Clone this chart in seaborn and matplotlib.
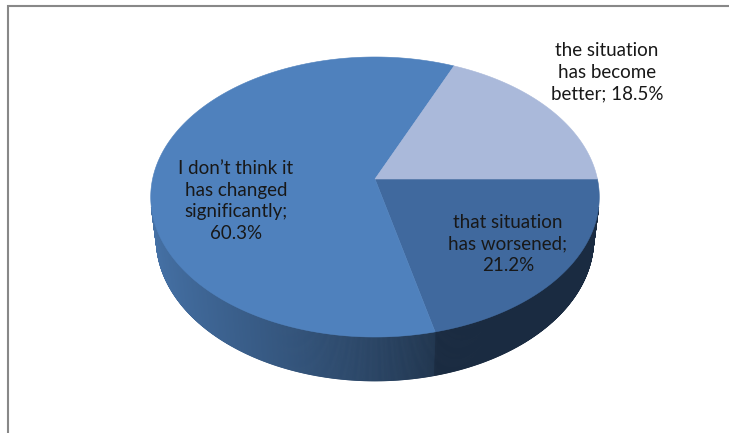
import numpy as np
import matplotlib
matplotlib.use("Agg")
import matplotlib.pyplot as plt
import seaborn as sns
from matplotlib.collections import PolyCollection
from matplotlib.patches import Polygon
from matplotlib.colors import to_rgb

sns.set_theme(style="white")
plt.rcParams["font.family"] = ["Lato", "DejaVu Sans"]

# Survey answers, in the order they are laid out clockwise from 3 o'clock
categories = [
    "that situation has worsened",
    "I don\u2019t think it has changed significantly",
    "the situation has become better",
]
values = [21.2, 60.3, 18.5]
label_names = [
    "that situation\nhas worsened;",
    "I don\u2019t think it\nhas changed\nsignificantly;",
    "the situation\nhas become\nbetter;",
]
label_seps = ["\n", "\n", " "]
top_colors = ["#40699E", "#4F81BD", "#AAB9DA"]

# Label anchors (pixels) and pie geometry
label_pos = [(508, 244), (236, 201), (607, 72)]
CX, CY = 375.0, 179.0
SCALE = 1359.0
DIST = 6.11
TILT = np.deg2rad(38.25)
SIN_T, COS_T = np.sin(TILT), np.cos(TILT)
HEIGHT = 0.248
START_ANGLE = 90.0


def project(px, py, pz):
    """Perspective projection of pie-space points to pixel coordinates."""
    depth = DIST + COS_T * py - SIN_T * pz
    sx = CX + SCALE * px / depth
    sy = CY - SCALE * (SIN_T * py + COS_T * pz) / depth
    return sx, sy


def shade(phi):
    """Side-wall brightness factor: lit from the left, dark toward the front-right."""
    t = np.clip((0.25 - np.sin(phi)) / 1.25, 0.0, 1.0)
    return 0.41 + 0.47 * t ** 0.85


fig = plt.figure(figsize=(7.29, 4.33), dpi=100)
ax = fig.add_axes([0, 0, 1, 1])
ax.set_xlim(0, 729)
ax.set_ylim(433, 0)
ax.axis("off")

total = float(sum(values))
spans = [v / total * 360.0 for v in values]
starts = START_ANGLE + np.concatenate([[0.0], np.cumsum(spans)[:-1]])

# Outer side walls (only the parts facing the viewer)
cull = -1.0 / (DIST * COS_T)
side_polys, side_cols = [], []
for a0, span, col in zip(starts, spans, top_colors):
    phis = np.deg2rad(np.linspace(a0, a0 + span, max(int(span * 4), 8)))
    base = np.array(to_rgb(col))
    for p0, p1 in zip(phis[:-1], phis[1:]):
        pm = 0.5 * (p0 + p1)
        if np.cos(pm) > cull + 0.01:
            continue
        t0 = project(np.sin(p0), np.cos(p0), 0.0)
        t1 = project(np.sin(p1), np.cos(p1), 0.0)
        b1 = project(np.sin(p1), np.cos(p1), -HEIGHT)
        b0 = project(np.sin(p0), np.cos(p0), -HEIGHT)
        side_polys.append([t0, t1, b1, b0])
        side_cols.append(np.clip(base * shade(pm), 0, 1))

ax.add_collection(PolyCollection(side_polys, facecolors=side_cols,
                                 edgecolors=side_cols, linewidths=0.6))

# Top faces of the slices
for a0, span, col in zip(starts, spans, top_colors):
    phis = np.deg2rad(np.linspace(a0, a0 + span, max(int(span * 2), 6)))
    xs, ys = project(np.sin(phis), np.cos(phis), np.zeros_like(phis))
    cx0, cy0 = project(0.0, 0.0, 0.0)
    pts = np.column_stack([np.r_[cx0, xs], np.r_[cy0, ys]])
    ax.add_patch(Polygon(pts, closed=True, facecolor=col, edgecolor=col,
                         linewidth=0.4))

# Data labels
for name, sep, v, (lx, ly) in zip(label_names, label_seps, values, label_pos):
    ax.text(lx, ly, f"{name}{sep}{v:.1f}%", ha="center", va="center",
            fontsize=13.5, color="#181818", linespacing=1.33)

# Chart-area frame
ax.plot([8, 8, 729], [433, 6, 6], color="#888888", lw=1.5,
        solid_joinstyle="miter", solid_capstyle="butt")

fig.savefig("out.png", dpi=100, facecolor="white")
